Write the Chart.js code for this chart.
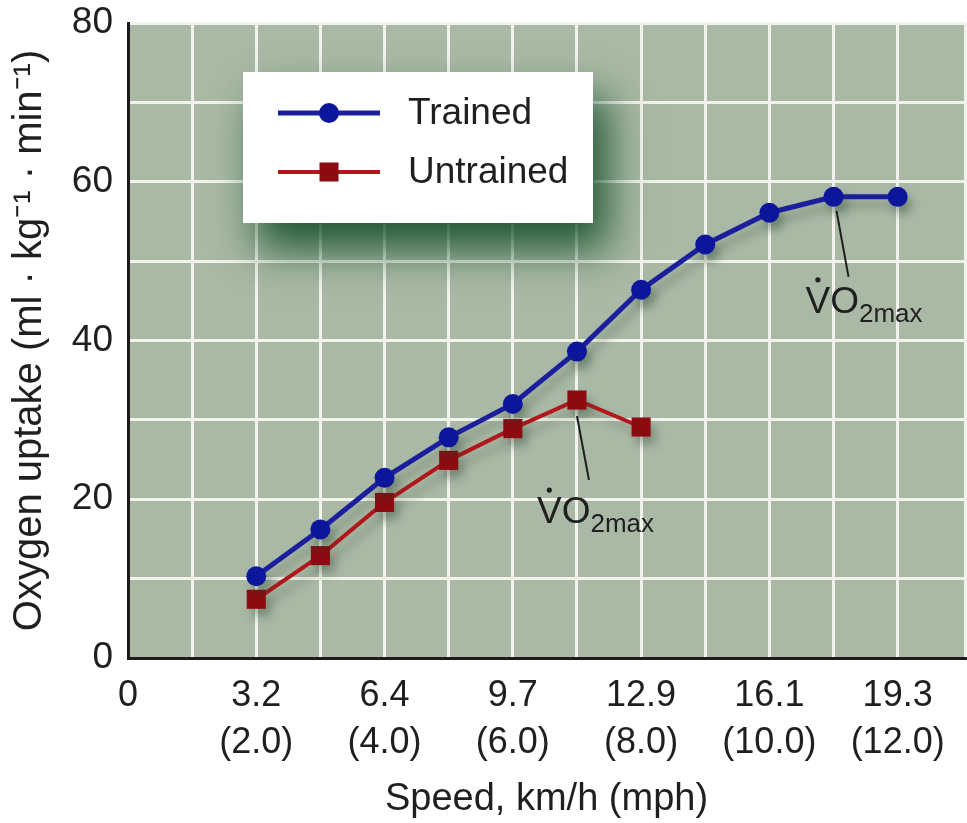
<!DOCTYPE html>
<html lang="en">
<head>
  <meta charset="utf-8">
  <title>Oxygen uptake vs speed</title>
  <script src="https://cdn.jsdelivr.net/npm/chart.js"></script>
  <style>
    html, body { margin: 0; padding: 0; background: #fff; }
  </style>
</head>
<body>
<canvas id="uptakeChartCanvas" width="967" height="823"></canvas>

<script>

   // speed in mph on the x scale, oxygen uptake in ml/kg/min
   const trainedSpeed = [2, 3, 4, 5, 6, 7, 8, 9, 10, 11, 12];
   const trainedUptake = [10.3, 16.2, 22.7, 27.8, 32.0, 38.6, 46.4, 52.1, 56.1, 58.1, 58.1];
   const untrainedSpeed = [2, 3, 4, 5, 6, 7, 8];
   const untrainedUptake = [7.4, 12.9, 19.6, 24.9, 28.9, 32.5, 29.1];

   const speedTickMph = [0, 2, 4, 6, 8, 10, 12];
   const speedTickKmh = ['0', '3.2', '6.4', '9.7', '12.9', '16.1', '19.3'];
   const speedTickMphText = ['', '(2.0)', '(4.0)', '(6.0)', '(8.0)', '(10.0)', '(12.0)'];
   const uptakeTicks = [0, 20, 40, 60, 80];

   // index of the VO2max point in each series
   const trainedMaxIndex = 9;
   const untrainedMaxIndex = 5;

   const FONT = '"Liberation Sans", Arial, Helvetica, sans-serif';
   const INK = '#1f1f1f';

   function toPoints(xs, ys){
      var pts = [];
      for(i = 0; i < xs.length; ++i){
         pts.push({ x: xs[i], y: ys[i] });
      }
      return pts;
   }

   const plotBackground = {
      id: 'plotBackground',
      beforeDraw(chart){
         const ca = chart.chartArea;
         const ctx = chart.ctx;
         ctx.save();
         ctx.fillStyle = '#aab9a6';
         ctx.fillRect(ca.left, ca.top, ca.right - ca.left, ca.bottom - ca.top);
         ctx.restore();
      }
   };

   const lineShadow = {
      id: 'lineShadow',
      beforeDatasetsDraw(chart){
         const ctx = chart.ctx;
         ctx.save();
         ctx.shadowColor = 'rgba(40, 70, 45, 0.35)';
         ctx.shadowBlur = 10;
         ctx.shadowOffsetX = 5;
         ctx.shadowOffsetY = 8;
      },
      afterDatasetsDraw(chart){
         chart.ctx.restore();
      }
   };

   function drawMarker(ctx, style, x, y, color){
      ctx.fillStyle = color;
      if( style == 'rect' ){
         ctx.fillRect(x - 9.5, y - 9.5, 19, 19);
      } else {
         ctx.beginPath();
         ctx.arc(x, y, 10, 0, Math.PI * 2);
         ctx.fill();
      }
   }

   const vo2Notes = {
      id: 'vo2Notes',
      afterDatasetsDraw(chart){
         const ctx = chart.ctx;
         const notes = [
            { ds: 0, idx: trainedMaxIndex, lx0: 3, ly0: 14, lx1: 15, ly1: 80, tx: -28, ty: 116 },
            { ds: 1, idx: untrainedMaxIndex, lx0: 0, ly0: 16, lx1: 12, ly1: 80, tx: -40, ty: 123 },
         ];
         ctx.save();
         notes.forEach(function(n){
            const pt = chart.getDatasetMeta(n.ds).data[n.idx];
            ctx.strokeStyle = INK;
            ctx.lineWidth = 2;
            ctx.beginPath();
            ctx.moveTo(pt.x + n.lx0, pt.y + n.ly0);
            ctx.lineTo(pt.x + n.lx1, pt.y + n.ly1);
            ctx.stroke();

            const tx = pt.x + n.tx;
            const ty = pt.y + n.ty;
            ctx.fillStyle = INK;
            ctx.textBaseline = 'alphabetic';
            ctx.textAlign = 'left';
            ctx.font = '37px ' + FONT;
            ctx.fillText('VO', tx, ty);
            const vw = ctx.measureText('V').width;
            const vow = ctx.measureText('VO').width;
            ctx.beginPath();
            ctx.arc(tx + vw / 2, ty - 33, 2.6, 0, Math.PI * 2);
            ctx.fill();
            ctx.font = '26px ' + FONT;
            ctx.fillText('2max', tx + vow, ty + 9);
         });
         ctx.restore();
      }
   };

   const boxLegend = {
      id: 'boxLegend',
      afterDraw(chart){
         const ctx = chart.ctx;
         const ca = chart.chartArea;
         const bx = ca.left + 115, by = ca.top + 49, bw = 350, bh = 151;
         ctx.save();
         ctx.shadowColor = 'rgba(14, 75, 38, 0.9)';
         ctx.shadowBlur = 40;
         ctx.shadowOffsetX = 14;
         ctx.shadowOffsetY = 26;
         ctx.fillStyle = '#ffffff';
         ctx.fillRect(bx, by, bw, bh);
         ctx.restore();

         ctx.save();
         chart.data.datasets.forEach(function(ds, i){
            const y = by + 41 + i * 59;
            ctx.strokeStyle = ds.borderColor;
            ctx.lineWidth = ds.borderWidth;
            ctx.beginPath();
            ctx.moveTo(bx + 35, y);
            ctx.lineTo(bx + 137, y);
            ctx.stroke();
            drawMarker(ctx, ds.pointStyle, bx + 86, y, ds.pointBackgroundColor);
            ctx.fillStyle = INK;
            ctx.font = '37px ' + FONT;
            ctx.textBaseline = 'middle';
            ctx.textAlign = 'left';
            ctx.fillText(ds.label, bx + 165, y + 1);
         });
         ctx.restore();
      }
   };

   const uptakeChart = new Chart(document.getElementById('uptakeChartCanvas'), {
      type: 'line',
      data: {
         datasets: [
            {
               label: 'Trained',
               data: toPoints(trainedSpeed, trainedUptake),
               borderColor: '#1b1f9e',
               borderWidth: 5,
               pointStyle: 'circle',
               pointRadius: 10,
               pointBackgroundColor: '#0c169a',
               pointBorderColor: '#0c169a',
               pointBorderWidth: 0,
               tension: 0,
            },
            {
               label: 'Untrained',
               data: toPoints(untrainedSpeed, untrainedUptake),
               borderColor: '#b3171c',
               borderWidth: 4,
               pointStyle: 'rect',
               pointRadius: 13.5,
               pointBackgroundColor: '#8c0b10',
               pointBorderColor: '#8c0b10',
               pointBorderWidth: 0,
               tension: 0,
            },
         ],
      },
      options: {
         responsive: false,
         animation: false,
         events: [],
         layout: { autoPadding: false, padding: { top: 23, right: 2, left: 0, bottom: 0 } },
         plugins: {
            legend: { display: false },
            tooltip: { enabled: false },
         },
         scales: {
            x: {
               type: 'linear',
               min: 0,
               max: 13.05,
               border: { display: true, color: '#1c1c1c', width: 3 },
               grid: { color: '#f2f3ec', lineWidth: 3, drawTicks: false },
               ticks: {
                  stepSize: 1,
                  autoSkip: false,
                  maxRotation: 0,
                  padding: 15,
                  color: INK,
                  font: { family: FONT, size: 36, lineHeight: 1.3 },
                  callback: function(v){
                     const k = speedTickMph.indexOf(v);
                     if( k < 0 ) return '';
                     if( speedTickMphText[k] == '' ) return speedTickKmh[k];
                     return [speedTickKmh[k], speedTickMphText[k]];
                  },
               },
               title: {
                  display: true,
                  text: 'Speed, km/h (mph)',
                  color: INK,
                  font: { family: FONT, size: 38 },
                  padding: { top: 0, bottom: 1 },
               },
               afterFit: function(scale){
                  scale.height = 165;
                  scale.paddingLeft = 0;
                  scale.paddingRight = 0;
               },
            },
            y: {
               type: 'linear',
               min: 0,
               max: 80,
               border: { display: true, color: '#1c1c1c', width: 3 },
               grid: { color: '#f2f3ec', lineWidth: 3, drawTicks: false },
               ticks: {
                  stepSize: 10,
                  padding: 15,
                  color: INK,
                  font: { family: FONT, size: 37 },
                  callback: function(v){
                     return uptakeTicks.includes(v) ? String(v) : '';
                  },
               },
               title: {
                  display: true,
                  text: 'Oxygen uptake (ml · kg⁻¹ · min⁻¹)',
                  color: INK,
                  font: { family: FONT, size: 40 },
                  padding: { top: 6, bottom: 0 },
               },
               afterFit: function(scale){
                  scale.width = 128;
                  scale.paddingTop = 0;
                  scale.paddingBottom = 0;
               },
            },
         },
      },
      plugins: [plotBackground, lineShadow, vo2Notes, boxLegend],
   });

</script>
</body>
</html>
